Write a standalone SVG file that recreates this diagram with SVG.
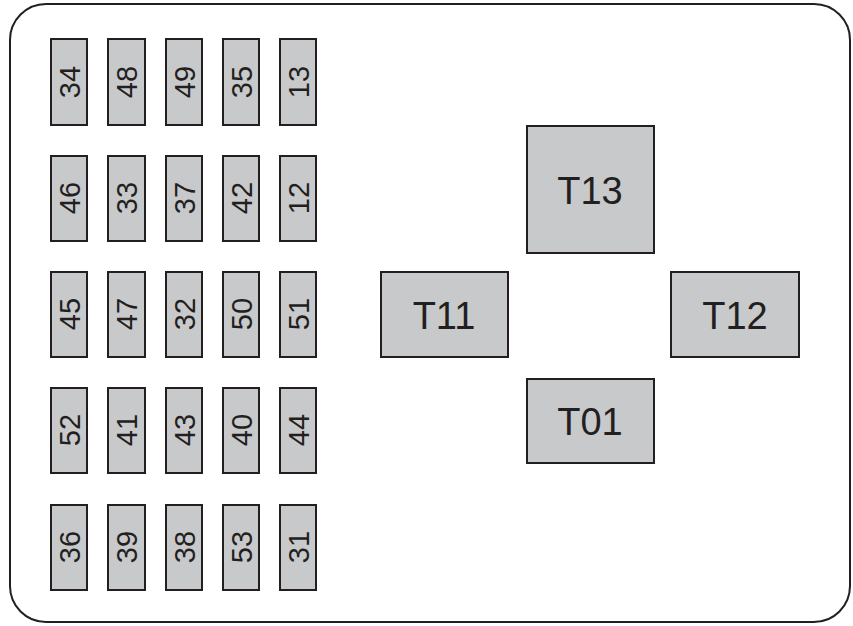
<svg xmlns="http://www.w3.org/2000/svg" width="853" height="626" viewBox="0 0 853 626">
<style>
.frame{fill:#fff;stroke:#231f20;stroke-width:2}
.box{fill:#c8c9cb;stroke:#231f20;stroke-width:2}
.s{font-family:"Liberation Sans",Arial,sans-serif;font-size:29px;fill:#231f20;text-anchor:middle;dominant-baseline:central}
.l{font-family:"Liberation Sans",Arial,sans-serif;font-size:38px;fill:#231f20;text-anchor:middle;dominant-baseline:central}
</style>
<rect class="frame" x="10" y="4" width="840" height="618" rx="36" ry="36"/>
<g id="fuses">
<g id="f34"><rect class="box" x="51" y="39" width="36" height="86"/><text class="s" transform="translate(70,82) rotate(-90)">34</text></g>
<g id="f48"><rect class="box" x="108" y="39" width="37" height="86"/><text class="s" transform="translate(127,82) rotate(-90)">48</text></g>
<g id="f49"><rect class="box" x="166" y="39" width="36" height="86"/><text class="s" transform="translate(185,82) rotate(-90)">49</text></g>
<g id="f35"><rect class="box" x="223" y="39" width="36" height="86"/><text class="s" transform="translate(242,82) rotate(-90)">35</text></g>
<g id="f13"><rect class="box" x="280" y="39" width="36" height="86"/><text class="s" transform="translate(299,82) rotate(-90)">13</text></g>

<g id="f46"><rect class="box" x="51" y="156" width="36" height="85"/><text class="s" transform="translate(70,198) rotate(-90)">46</text></g>
<g id="f33"><rect class="box" x="108" y="156" width="37" height="85"/><text class="s" transform="translate(127,198) rotate(-90)">33</text></g>
<g id="f37"><rect class="box" x="166" y="156" width="36" height="85"/><text class="s" transform="translate(185,198) rotate(-90)">37</text></g>
<g id="f42"><rect class="box" x="223" y="156" width="36" height="85"/><text class="s" transform="translate(242,198) rotate(-90)">42</text></g>
<g id="f12"><rect class="box" x="280" y="156" width="36" height="85"/><text class="s" transform="translate(299,198) rotate(-90)">12</text></g>

<g id="f45"><rect class="box" x="51" y="272" width="36" height="85"/><text class="s" transform="translate(70,314) rotate(-90)">45</text></g>
<g id="f47"><rect class="box" x="108" y="272" width="37" height="85"/><text class="s" transform="translate(127,314) rotate(-90)">47</text></g>
<g id="f32"><rect class="box" x="166" y="272" width="36" height="85"/><text class="s" transform="translate(185,314) rotate(-90)">32</text></g>
<g id="f50"><rect class="box" x="223" y="272" width="36" height="85"/><text class="s" transform="translate(242,314) rotate(-90)">50</text></g>
<g id="f51"><rect class="box" x="280" y="272" width="36" height="85"/><text class="s" transform="translate(299,314) rotate(-90)">51</text></g>

<g id="f52"><rect class="box" x="51" y="388" width="36" height="85"/><text class="s" transform="translate(70,430) rotate(-90)">52</text></g>
<g id="f41"><rect class="box" x="108" y="388" width="37" height="85"/><text class="s" transform="translate(127,430) rotate(-90)">41</text></g>
<g id="f43"><rect class="box" x="166" y="388" width="36" height="85"/><text class="s" transform="translate(185,430) rotate(-90)">43</text></g>
<g id="f40"><rect class="box" x="223" y="388" width="36" height="85"/><text class="s" transform="translate(242,430) rotate(-90)">40</text></g>
<g id="f44"><rect class="box" x="280" y="388" width="36" height="85"/><text class="s" transform="translate(299,430) rotate(-90)">44</text></g>

<g id="f36"><rect class="box" x="51" y="505" width="36" height="85"/><text class="s" transform="translate(70,547) rotate(-90)">36</text></g>
<g id="f39"><rect class="box" x="108" y="505" width="37" height="85"/><text class="s" transform="translate(127,547) rotate(-90)">39</text></g>
<g id="f38"><rect class="box" x="166" y="505" width="36" height="85"/><text class="s" transform="translate(185,547) rotate(-90)">38</text></g>
<g id="f53"><rect class="box" x="223" y="505" width="36" height="85"/><text class="s" transform="translate(242,547) rotate(-90)">53</text></g>
<g id="f31"><rect class="box" x="280" y="505" width="36" height="85"/><text class="s" transform="translate(299,547) rotate(-90)">31</text></g>
</g>
<g id="T13"><rect class="box" x="527" y="126" width="127" height="127"/><text class="l" x="590" y="191">T13</text></g>
<g id="T11"><rect class="box" x="381" y="272" width="127" height="85"/><text class="l" x="444" y="316">T11</text></g>
<g id="T12"><rect class="box" x="671" y="272" width="128" height="85"/><text class="l" x="735" y="316">T12</text></g>
<g id="T01"><rect class="box" x="527" y="379" width="127" height="84"/><text class="l" x="590" y="422">T01</text></g>
<g id="connectors"/>
</svg>
